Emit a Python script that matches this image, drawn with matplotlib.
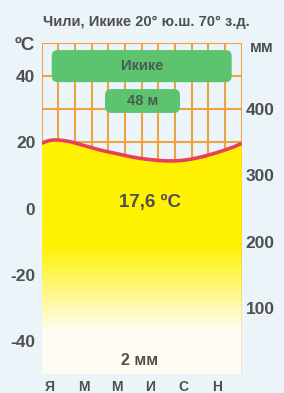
import matplotlib.pyplot as plt
import numpy as np
from matplotlib.patches import FancyBboxPatch, Polygon
from matplotlib.colors import LinearSegmentedColormap

plt.rcParams['font.family'] = ['Liberation Sans', 'DejaVu Sans']

# данные: Икике, Чили
months = ['Я', 'М', 'М', 'И', 'С', 'Н']
temps = [20.6, 20.4, 19.1, 17.7, 16.6, 15.5, 14.8, 14.4, 14.6, 15.5, 16.9, 18.6]
station = 'Икике'
height_label = '48 м'
mean_label = '17,6 ºC'
precip_label = '2 мм'
title = 'Чили, Икике 20° ю.ш. 70° з.д.'
left_ticks = [-40, -20, 0, 20, 40]
right_ticks = [100, 200, 300, 400]

bg = '#ebf4f9'
grid_c = '#eda440'
text_c = '#4f4f4f'
green = '#5cc46e'

fig = plt.figure(figsize=(2.84, 3.93), dpi=100, facecolor=bg)
ax = fig.add_axes([0.147, 0.0483, 0.704, 0.842])
ax.set_facecolor(bg)
ax.set_xlim(0, 12)
ax.set_ylim(-50, 50)

# сетка
for x in range(13):
    ax.axvline(x, color=grid_c, lw=1.5, zorder=1)
for y in range(-50, 51, 10):
    ax.axhline(y, color=grid_c, lw=1.5, zorder=1)

# сглаженная кривая (периодический Catmull-Rom по месяцам)
t = np.array(temps)
n = len(t)
xs = np.linspace(0, 12, 241)
u = xs - 0.5
i0 = np.floor(u).astype(int)
f = u - i0
p0, p1, p2, p3 = (t[(i0 - 1) % n], t[i0 % n], t[(i0 + 1) % n], t[(i0 + 2) % n])
ys = 0.5 * (2 * p1 + (-p0 + p2) * f + (2 * p0 - 5 * p1 + 4 * p2 - p3) * f ** 2
            + (-p0 + 3 * p1 - 3 * p2 + p3) * f ** 3)

verts = np.vstack([np.column_stack([xs, ys]), [[12, -50], [0, -50]]])
poly = Polygon(verts, closed=True, facecolor='none', edgecolor='none')
ax.add_patch(poly)

cmap = LinearSegmentedColormap.from_list('yw', ['#fffdf3', '#fff200'])
tt = np.linspace(-50, 50, 400)
level = np.clip((tt + 37) / 26, 0, 1)[:, None]
im = ax.imshow(level, cmap=cmap, aspect='auto', origin='lower',
               extent=[0, 12, -50, 50], vmin=0, vmax=1, zorder=2,
               interpolation='bilinear')
im.set_clip_path(poly)

ax.plot(xs, ys, color='#e8405a', lw=2.6, zorder=3, solid_capstyle='butt')

for s in ax.spines.values():
    s.set_visible(False)

ax.set_xticks(np.arange(0.5, 12, 2), months)
ax.set_yticks(left_ticks, [str(v) for v in left_ticks])
ax.tick_params(axis='both', length=0, colors=text_c)
ax.tick_params(axis='x', pad=4, labelsize=10)
ax.tick_params(axis='y', pad=4.5, labelsize=12.5)
for lb in ax.get_xticklabels() + ax.get_yticklabels():
    lb.set_fontweight('bold')

ax2 = ax.twinx()
ax2.set_ylim(0, 500)
ax2.set_yticks(right_ticks, [str(v) for v in right_ticks])
ax2.tick_params(axis='y', length=0, colors=text_c, pad=3, labelsize=12.5)
for lb in ax2.get_yticklabels():
    lb.set_fontweight('bold')
for s in ax2.spines.values():
    s.set_visible(False)

# плашки
asp = 200 / 331
b1 = FancyBboxPatch((0.05, 0.882), 0.90, 0.097, transform=ax.transAxes,
                    boxstyle='round,pad=0,rounding_size=0.03',
                    mutation_aspect=asp, facecolor=green, edgecolor='none', zorder=5)
b2 = FancyBboxPatch((0.3165, 0.789), 0.375, 0.072, transform=ax.transAxes,
                    boxstyle='round,pad=0,rounding_size=0.03',
                    mutation_aspect=asp, facecolor=green, edgecolor='none', zorder=5)
ax.add_patch(b1)
ax.add_patch(b2)
ax.text(0.503, 0.931, station, transform=ax.transAxes, ha='center', va='center',
        fontsize=10.5, fontweight='bold', color='#4d5a4f', zorder=6)
ax.text(0.503, 0.825, height_label, transform=ax.transAxes, ha='center', va='center',
        fontsize=10.5, fontweight='bold', color='#4d5a4f', zorder=6)

ax.text(0.541, 0.517, mean_label, transform=ax.transAxes, ha='center', va='center',
        fontsize=13.5, fontweight='bold', color=text_c, zorder=6)
ax.text(0.49, 0.042, precip_label, transform=ax.transAxes, ha='center', va='center',
        fontsize=11.5, fontweight='bold', color=text_c, zorder=6)

fig.text(25 / 284, 1 - 45 / 393, 'ºC', ha='center', va='center',
         fontsize=13.5, fontweight='bold', color=text_c)
fig.text(262 / 284, 1 - 48 / 393, 'мм', ha='center', va='center',
         fontsize=11.5, fontweight='bold', color=text_c)
fig.text(146 / 284, 1 - 22 / 393, title, ha='center', va='center',
         fontsize=10.5, fontweight='bold', color=text_c)

fig.savefig('out.png', dpi=100, facecolor=bg)
